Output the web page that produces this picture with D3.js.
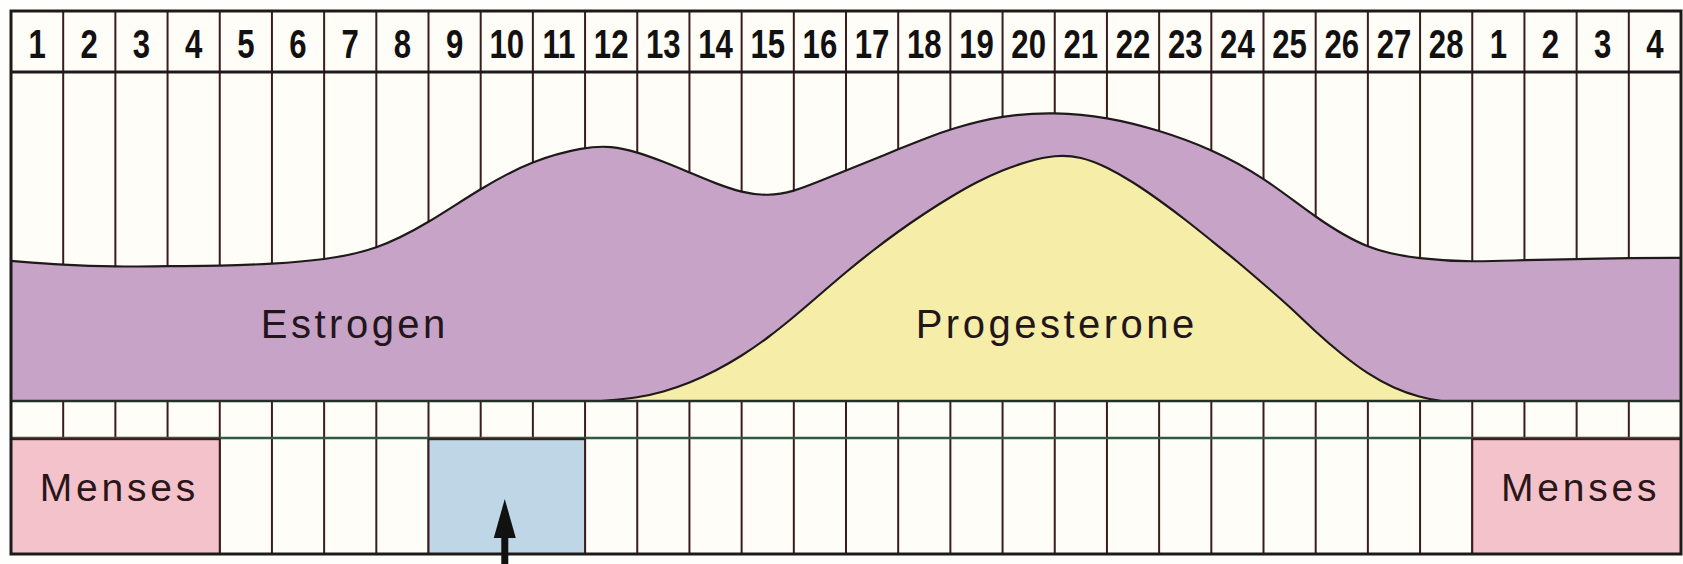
<!DOCTYPE html>
<html>
<head>
<meta charset="utf-8">
<script src="https://cdn.jsdelivr.net/npm/d3@7/dist/d3.min.js"></script>
<style>
  html, body { margin: 0; padding: 0; background: #fefefc; }
  svg { display: block; }
</style>
</head>
<body>
<svg id="chart" width="1683" height="564"></svg>
<script>
// ---------------- data ----------------
const dayLabels = [1,2,3,4,5,6,7,8,9,10,11,12,13,14,15,16,17,18,19,20,21,22,23,24,25,26,27,28,1,2,3,4];

// Estrogen level (relative units) at positions along the day axis (column units, 0 = left edge)
const estrogenPos   = [0, 1, 2, 3, 4, 5, 6, 7, 8, 9, 10, 11, 11.5, 12, 12.5, 13, 13.5, 14, 14.5, 15, 15.5, 16, 16.5, 17, 17.5, 18, 19, 20, 21, 22, 23, 24, 25, 26, 27, 28, 29, 30, 31, 32];
const estrogenLevel = [46.7, 45.3, 44.7, 45, 45, 45.7, 47, 50.3, 59.3, 71, 80.3, 84.7, 85, 83, 79.8, 76.2, 72.5, 69.5, 68.3, 69.8, 73.3, 76.8, 80.3, 83.9, 87.4, 90.7, 95.3, 96.3, 94.7, 90.3, 84, 74.7, 61, 50.3, 47.3, 46.3, 47, 47.3, 47.7, 47.7];

// Progesterone level (relative units)
const progPos   = [11.3, 12, 12.5, 13, 13.5, 14, 14.5, 15, 15.5, 16, 16.5, 17, 17.5, 18, 18.5, 19, 19.5, 20, 20.5, 21, 21.5, 22, 22.5, 23, 23.5, 24, 24.5, 25, 25.5, 26, 26.5, 27, 27.4];
const progLevel = [0, 1, 3, 6, 10, 15, 21, 28, 35.5, 43, 50, 56.5, 62.5, 68, 73, 77, 80, 82, 81.5, 78, 73, 67, 60.5, 53.5, 46.5, 39, 31.5, 23, 15.5, 9, 4.2, 1.2, 0];

// Phase boxes in the bottom row: [first column index, last column index (exclusive)]
const phaseLabels = ["Menses", "", "Menses"];
const phaseStart  = [0, 8, 28];
const phaseEnd    = [4, 11, 32];
const phaseKind   = ["menses", "ovulation", "menses"];

// ---------------- layout ----------------
const svg = d3.select("#chart");
const L = 11, R = 1681;
const yTop = 11, yHeadBot = 72, yBase = 401, yStrip = 438, yBot = 554;

const x = d3.scaleLinear().domain([0, dayLabels.length]).range([L, R]);
const y = d3.scaleLinear().domain([0, 100]).range([yBase, yBase - 300]);

const lineCol = "#3a1c1c";
const colors = {
  cell: "#fffdf7",
  estrogen: "#c8a3c8",
  prog: "#f6eda9",
  menses: "#f4c2cb",
  ovulation: "#bfd6e7",
  strip: "#2f5a40"
};

// background cells
svg.append("rect").attr("x", L).attr("y", yTop).attr("width", R - L).attr("height", yBot - yTop)
  .attr("fill", colors.cell);

const bounds = d3.range(1, dayLabels.length);

// vertical lines in header + upper area (covered later by hormone areas)
svg.append("g").selectAll("line").data(bounds).join("line")
  .attr("x1", d => x(d)).attr("x2", d => x(d))
  .attr("y1", yTop).attr("y2", yBase)
  .attr("stroke", lineCol).attr("stroke-width", 2);

// vertical lines in the strip and bottom row
svg.append("g").selectAll("line").data(bounds).join("line")
  .attr("x1", d => x(d)).attr("x2", d => x(d))
  .attr("y1", yBase).attr("y2", yBot)
  .attr("stroke", lineCol).attr("stroke-width", 2);

// hormone areas
const estData = estrogenPos.map((p, i) => [p, estrogenLevel[i]]);
const progData = progPos.map((p, i) => [p, progLevel[i]]);

const curve = d3.curveBasis;
const area = d3.area().x(d => x(d[0])).y0(y(0)).y1(d => y(d[1])).curve(curve);
const line = d3.line().x(d => x(d[0])).y(d => y(d[1])).curve(curve);

svg.append("path").datum(estData).attr("d", area).attr("fill", colors.estrogen);
svg.append("path").datum(estData).attr("d", line).attr("fill", "none")
  .attr("stroke", "#1e1a1a").attr("stroke-width", 2.2);

svg.append("path").datum(progData).attr("d", area).attr("fill", colors.prog);
svg.append("path").datum(progData).attr("d", line).attr("fill", "none")
  .attr("stroke", "#1e1a1a").attr("stroke-width", 2.2);

// baseline line of hormone band
svg.append("line").attr("x1", L).attr("x2", R).attr("y1", yBase).attr("y2", yBase)
  .attr("stroke", "#22302a").attr("stroke-width", 2.5);

// strip line
svg.append("line").attr("x1", L).attr("x2", R).attr("y1", yStrip).attr("y2", yStrip)
  .attr("stroke", colors.strip).attr("stroke-width", 2.5);

// phase boxes
const phases = phaseLabels.map((lab, i) => ({ lab, s: phaseStart[i], e: phaseEnd[i], k: phaseKind[i] }));
const pg = svg.append("g");
pg.selectAll("rect").data(phases).join("rect")
  .attr("x", d => x(d.s)).attr("y", yStrip + 1.2)
  .attr("width", d => x(d.e) - x(d.s)).attr("height", yBot - yStrip - 1.2)
  .attr("fill", d => colors[d.k])
  .attr("stroke", lineCol).attr("stroke-width", 2);
pg.selectAll("text").data(phases.filter(d => d.lab)).join("text")
  .attr("x", d => (x(d.s) + x(d.e)) / 2 + 4).attr("y", 501)
  .attr("text-anchor", "middle")
  .attr("font-family", "'Liberation Sans', Arial, Helvetica, sans-serif")
  .attr("font-size", 39).attr("letter-spacing", 3.8)
  .attr("fill", "#2a1618")
  .text(d => d.lab);

// header line
svg.append("line").attr("x1", L).attr("x2", R).attr("y1", yHeadBot).attr("y2", yHeadBot)
  .attr("stroke", "#1e1a1a").attr("stroke-width", 3);

// header labels
svg.append("g").selectAll("text").data(dayLabels).join("text")
  .attr("transform", (d, i) => `translate(${x(i + 0.5)},58) scale(0.76,1)`)
  .attr("text-anchor", "middle")
  .attr("font-family", "'Liberation Sans', Arial, Helvetica, sans-serif")
  .attr("font-weight", "bold")
  .attr("font-size", 41)
  .attr("fill", "#121010")
  .text(d => d);

// hormone labels
const hormoneLabels = ["Estrogen", "Progesterone"];
const hormoneLabelPos = [6.55, 20.0];
svg.append("g").selectAll("text").data(hormoneLabels).join("text")
  .attr("x", (d, i) => x(hormoneLabelPos[i]) + 2).attr("y", 338)
  .attr("text-anchor", "middle")
  .attr("font-family", "'Liberation Sans', Arial, Helvetica, sans-serif")
  .attr("font-size", 40).attr("letter-spacing", 3.5)
  .attr("fill", "#22161a")
  .text(d => d);

// outer border
svg.append("rect").attr("x", L).attr("y", yTop).attr("width", R - L).attr("height", yBot - yTop)
  .attr("fill", "none").attr("stroke", "#1e1a1a").attr("stroke-width", 3);

// ovulation arrow (day 10)
const ax = x(9.5) - 2;
svg.append("rect").attr("x", ax - 3.5).attr("y", 530).attr("width", 7).attr("height", 40).attr("fill", "#111");
svg.append("path")
  .attr("d", `M${ax},499 L${ax + 11},538 L${ax - 11},538 Z`)
  .attr("fill", "#111");
</script>
</body>
</html>
